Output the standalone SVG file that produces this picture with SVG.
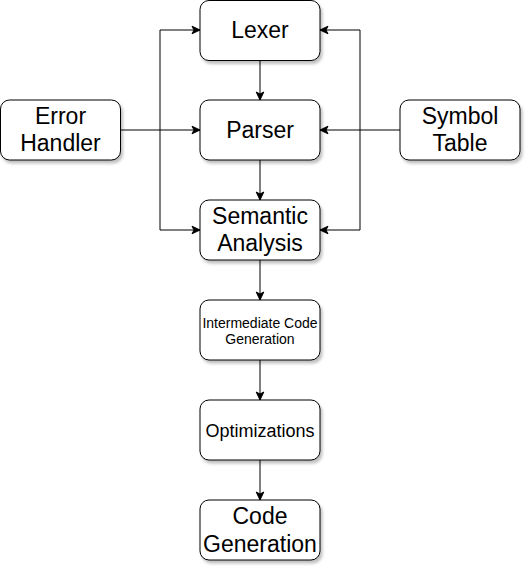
<svg xmlns="http://www.w3.org/2000/svg" width="532" height="572" viewBox="0 0 532 572">
<style>
.box{fill:#ffffff;stroke:#000000;stroke-width:1;filter:url(#sh)}
.t{font-family:"Liberation Sans",Arial,sans-serif;fill:#000000;text-anchor:middle;dominant-baseline:central}
.big{font-size:23px}
.mid{font-size:18px}
.sm{font-size:14px}
.c{fill:none;stroke:#000000;stroke-width:1;marker-end:url(#ar)}
</style>
<defs>
<filter id="sh" x="-20%" y="-20%" width="150%" height="160%">
<feDropShadow dx="2" dy="3" stdDeviation="1.5" flood-color="#000" flood-opacity="0.25"/>
</filter>
<marker id="ar" markerUnits="userSpaceOnUse" markerWidth="10" markerHeight="10" viewBox="0 0 10 10" refX="9" refY="5" orient="auto">
<path d="M1,1.2 L9,5 L1,8.8 L3,5 Z" fill="#000" stroke="#000" stroke-width="1"/>
</marker>
</defs>
<g id="connectors">
<path class="c" d="M120,130 H200"/>
<path class="c" d="M160,130 V30 H200"/>
<path class="c" d="M160,130 V230 H200"/>
<path class="c" d="M400,130 H320"/>
<path class="c" d="M360,130 V30 H320"/>
<path class="c" d="M360,130 V230 H320"/>
<path class="c" d="M260,60 V100"/>
<path class="c" d="M260,160 V200"/>
<path class="c" d="M260,260 V300"/>
<path class="c" d="M260,360 V400"/>
<path class="c" d="M260,460 V500"/>
</g>
<g id="lexer">
<rect class="box" x="200" y="0.5" width="120" height="60" rx="9"/>
<text class="t big" x="260" y="30">Lexer</text>
</g>
<g id="parser">
<rect class="box" x="200" y="100" width="120" height="60" rx="9"/>
<text class="t big" x="260" y="130">Parser</text>
</g>
<g id="semantic">
<rect class="box" x="200" y="200" width="120" height="60" rx="9"/>
<text class="t big" x="260" y="216">Semantic</text>
<text class="t big" x="260" y="243">Analysis</text>
</g>
<g id="error-handler">
<rect class="box" x="0.5" y="100" width="120" height="60" rx="9"/>
<text class="t big" x="60.5" y="116">Error</text>
<text class="t big" x="60.5" y="143">Handler</text>
</g>
<g id="symbol-table">
<rect class="box" x="400" y="100" width="120" height="60" rx="9"/>
<text class="t big" x="460" y="116">Symbol</text>
<text class="t big" x="460" y="143">Table</text>
</g>
<g id="intermediate">
<rect class="box" x="200" y="300" width="120" height="60" rx="9"/>
<text class="t sm" x="260" y="323">Intermediate Code</text>
<text class="t sm" x="260" y="339">Generation</text>
</g>
<g id="optimizations">
<rect class="box" x="200" y="400" width="120" height="60" rx="9"/>
<text class="t mid" x="260" y="431">Optimizations</text>
</g>
<g id="code-generation">
<rect class="box" x="200" y="500" width="120" height="60" rx="9"/>
<text class="t big" x="260" y="516">Code</text>
<text class="t big" x="260" y="544">Generation</text>
</g>
</svg>
